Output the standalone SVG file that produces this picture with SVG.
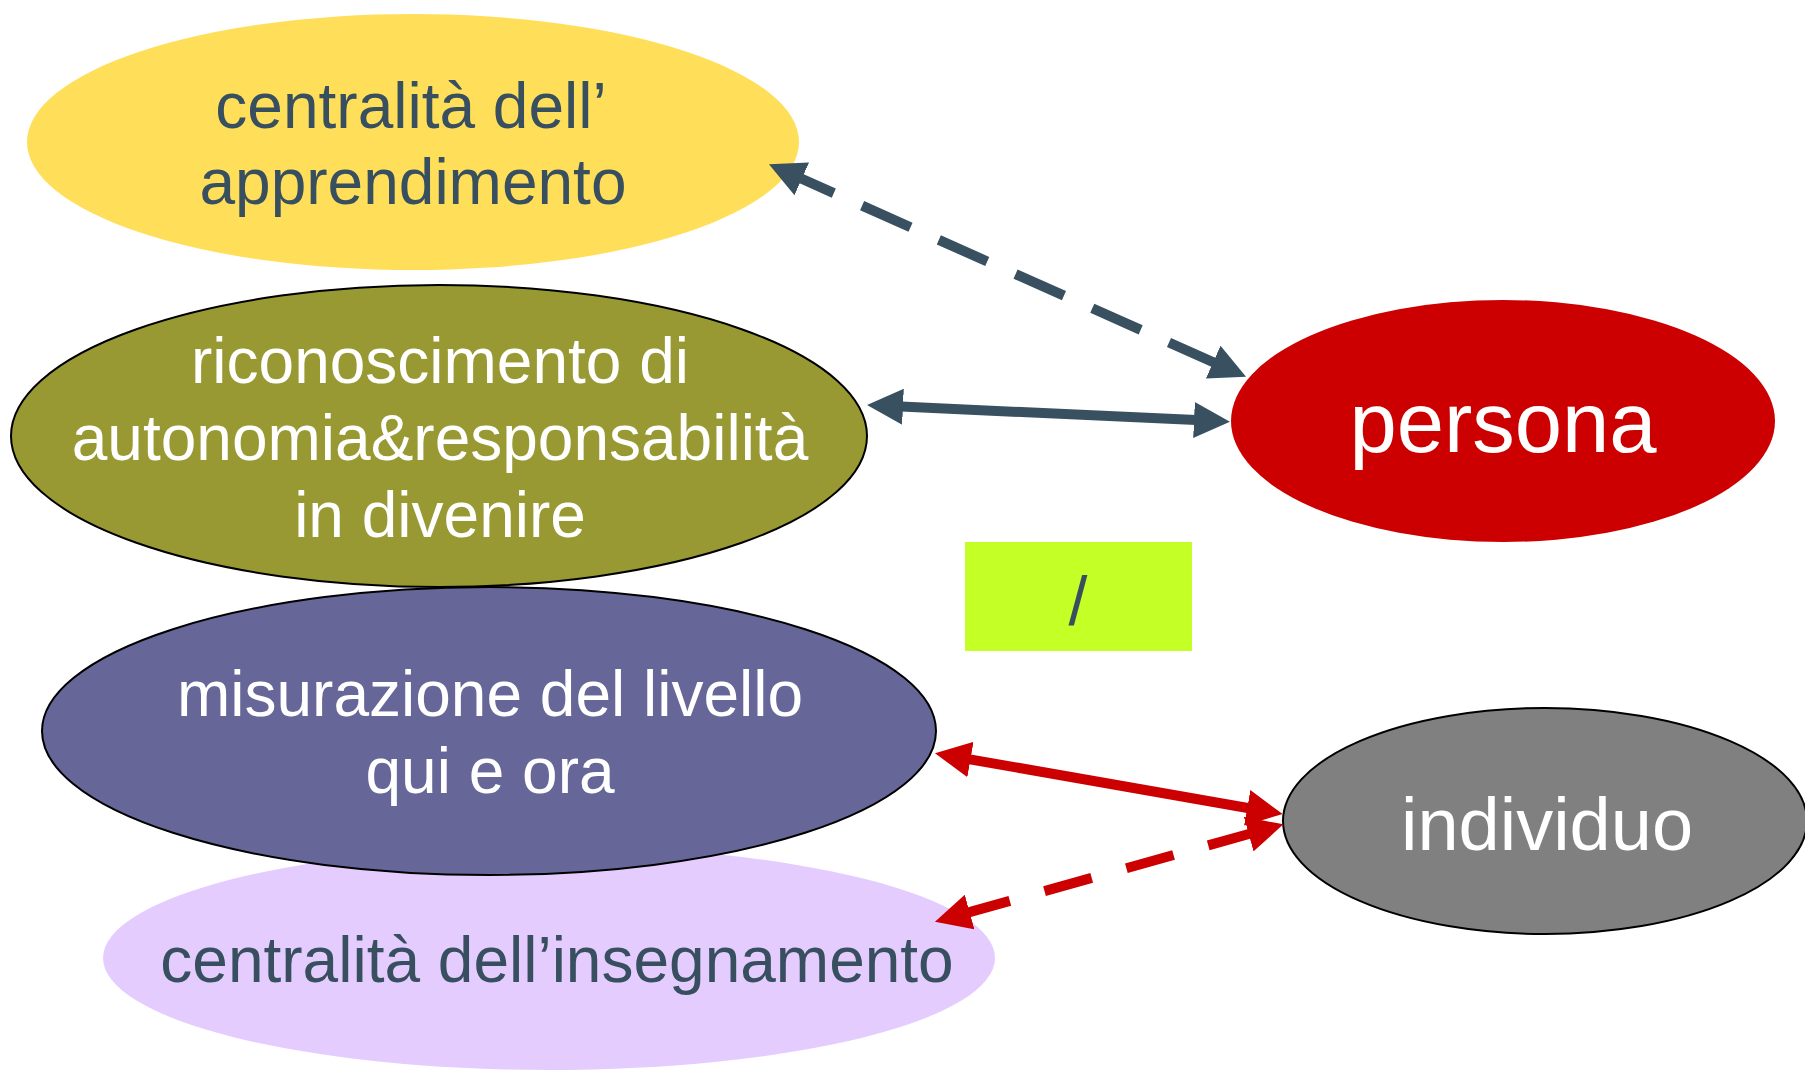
<svg xmlns="http://www.w3.org/2000/svg" width="1805" height="1071" viewBox="0 0 1805 1071">
  <style>
    .lbl { font-family: "Liberation Sans", Arial, Helvetica, sans-serif; font-size: 64px; text-anchor: middle; }
    .dark { fill: #384F5F; }
    .light { fill: #FFFFFF; }
    .outl { stroke: #000000; stroke-width: 2; }
    .slate { stroke: #38505F; stroke-width: 10; fill: none; }
    .red { stroke: #CC0000; stroke-width: 10; fill: none; }
  </style>
  <defs>
    <marker id="headSlate" viewBox="0 0 36 36" markerUnits="userSpaceOnUse" markerWidth="36" markerHeight="36" refX="2" refY="18" orient="auto-start-reverse">
      <path d="M0,0 L36,18 L0,36 Z" fill="#38505F"/>
    </marker>
    <marker id="headRed" viewBox="0 0 36 36" markerUnits="userSpaceOnUse" markerWidth="36" markerHeight="36" refX="2" refY="18" orient="auto-start-reverse">
      <path d="M0,0 L36,18 L0,36 Z" fill="#CC0000"/>
    </marker>
  </defs>
  <rect width="1805" height="1071" fill="#FFFFFF"/>

  <g id="node-apprendimento">
    <ellipse cx="413" cy="142" rx="386" ry="128" fill="#FFDF5A"/>
    <text class="lbl dark" x="411" y="128">centralità dell’</text>
    <text class="lbl dark" x="413" y="204">apprendimento</text>
  </g>

  <g id="node-riconoscimento">
    <ellipse class="outl" cx="439" cy="436" rx="428" ry="151" fill="#999933"/>
    <text class="lbl light" x="440" y="383">riconoscimento di</text>
    <text class="lbl light" x="440" y="460">autonomia&amp;responsabilità</text>
    <text class="lbl light" x="440" y="537">in divenire</text>
  </g>

  <g id="node-insegnamento">
    <ellipse cx="549" cy="958" rx="446" ry="112" fill="#E4CCFF"/>
    <text class="lbl dark" x="557" y="982">centralità dell’insegnamento</text>
  </g>

  <g id="node-misurazione">
    <ellipse class="outl" cx="489" cy="731" rx="447" ry="144" fill="#666699"/>
    <text class="lbl light" x="490" y="716">misurazione del livello</text>
    <text class="lbl light" x="490" y="793">qui e ora</text>
  </g>

  <g id="node-persona">
    <ellipse cx="1503" cy="421" rx="272" ry="121" fill="#CC0000"/>
    <text class="lbl light" x="1503" y="452" style="font-size:85px">persona</text>
  </g>

  <g id="node-individuo">
    <ellipse class="outl" cx="1545" cy="821" rx="262" ry="113" fill="#808080"/>
    <text class="lbl light" x="1547" y="850" style="font-size:74px">individuo</text>
  </g>

  <g id="node-slash">
    <rect x="965" y="542" width="227" height="109" fill="#C4FF26"/>
    <text class="lbl dark" x="1078" y="625" style="font-size:68px">/</text>
  </g>

  <g id="connectors">
    <line class="slate" x1="800" y1="178" x2="1215" y2="363" stroke-dasharray="53 31" stroke-dashoffset="16" marker-start="url(#headSlate)" marker-end="url(#headSlate)"/>
    <line class="slate" x1="901" y1="406.6" x2="1196" y2="420.1" marker-start="url(#headSlate)" marker-end="url(#headSlate)"/>
    <line class="red" x1="968.5" y1="759.1" x2="1249.2" y2="808.2" marker-start="url(#headRed)" marker-end="url(#headRed)"/>
    <line class="red" x1="1250.6" y1="833.5" x2="967.7" y2="912.6" stroke-dasharray="49 36" stroke-dashoffset="5" marker-start="url(#headRed)" marker-end="url(#headRed)"/>
  </g>
</svg>
